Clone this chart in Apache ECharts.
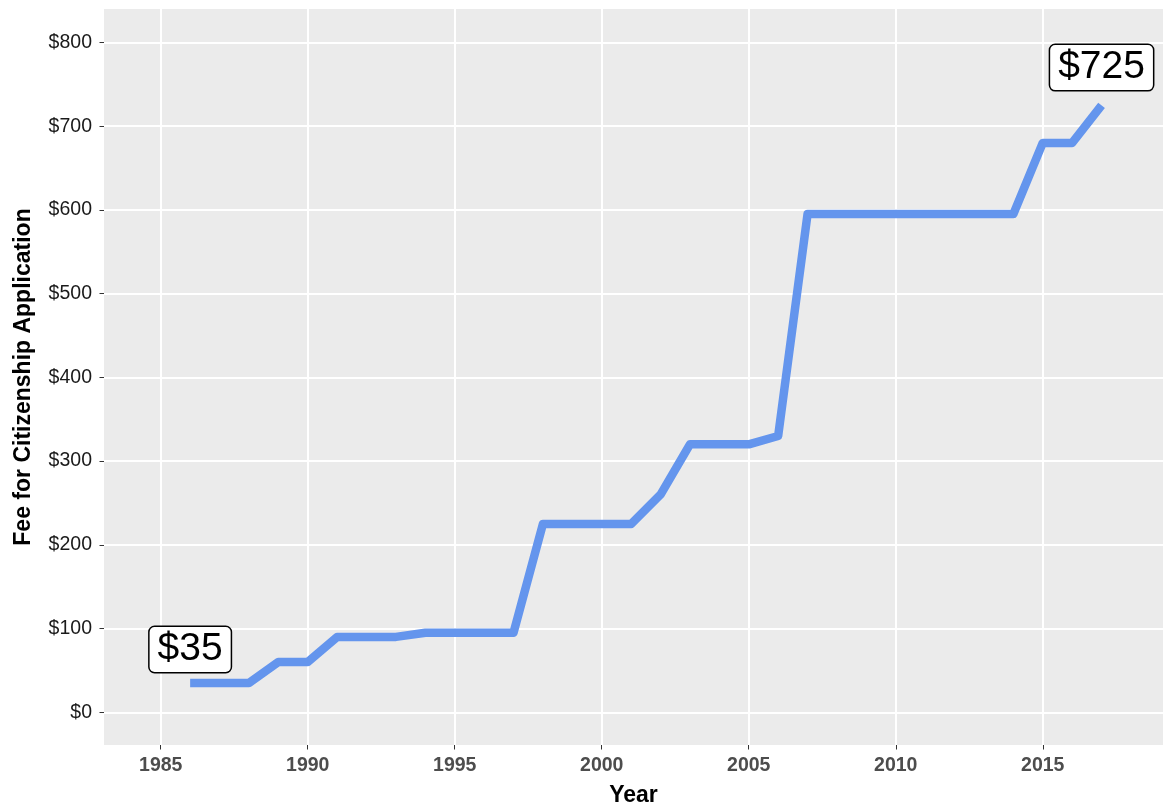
<!DOCTYPE html>
<html>
<head>
<meta charset="utf-8">
<script src="https://cdn.jsdelivr.net/npm/echarts@6/dist/echarts.min.js"></script>
<style>
html,body{margin:0;padding:0;background:#fff;}
#c{width:1163px;height:803px;}
</style>
</head>
<body>
<div id="c"></div>
<script>
const years = [1986,1987,1988,1989,1990,1991,1992,1993,1994,1995,1996,1997,1998,1999,2000,2001,2002,2003,2004,2005,2006,2007,2008,2009,2010,2011,2012,2013,2014,2015,2016,2017];
const fees  = [35,35,35,60,60,90,90,90,95,95,95,95,225,225,225,225,260,320,320,320,330,595,595,595,595,595,595,595,595,680,680,725];
const xTicks = [1985,1990,1995,2000,2005,2010,2015];
const yTicks = [0,100,200,300,400,500,600,700,800];
const annYears = [1986, 2017];
const annValues = [75, 770];
const annTexts = ['$35', '$725'];

const FONT = '"Liberation Sans", Arial, Helvetica, sans-serif';
const chart = echarts.init(document.getElementById('c'), null, {renderer:'canvas'});
const option = {
  animation:false,
  backgroundColor:'#ffffff',
  grid:{left:104,right:0,top:9,bottom:58,show:true,backgroundColor:'#EBEBEB',borderWidth:0,
        containLabel:false,outerBoundsMode:'none'},
  xAxis:{
    type:'value', min:1983.07, max:2019.09,
    name:'Year', nameLocation:'middle', nameGap:39,
    nameTextStyle:{fontFamily:FONT,fontSize:23,fontWeight:'bold',color:'#000'},
    axisLine:{show:false,onZero:false},
    axisTick:{show:true,length:4.5,customValues:xTicks,lineStyle:{color:'#333',width:1}},
    axisLabel:{customValues:xTicks,margin:11,fontFamily:FONT,fontSize:19.5,fontWeight:'bold',color:'#4D4D4D',formatter:v=>String(v)},
    splitLine:{show:true,lineStyle:{color:'#fff',width:2}}
  },
  yAxis:{
    type:'value', min:-39.1, max:840,
    name:'Fee for Citizenship Application', nameLocation:'middle', nameGap:69,
    nameTextStyle:{fontFamily:FONT,fontSize:23,fontWeight:'bold',color:'#000'},
    axisLine:{show:false,onZero:false},
    axisTick:{show:true,length:4.5,customValues:yTicks,lineStyle:{color:'#333',width:1}},
    axisLabel:{customValues:yTicks,margin:12,fontFamily:FONT,fontSize:19.5,color:'#1a1a1a',formatter:v=>'$'+v},
    splitLine:{show:true,lineStyle:{color:'#fff',width:2}}
  },
  series:[
    {type:'line',data:years.map((y,i)=>[y,fees[i]]),showSymbol:false,symbol:'none',
     lineStyle:{color:'#6495ED',width:8.5,cap:'butt',join:'round'}},
    {type:'scatter',data:annYears.map((y,i)=>[y,annValues[i]]),symbolSize:0,
     itemStyle:{color:'#000',opacity:1},
     label:{show:true,position:'inside',formatter:p=>annTexts[p.dataIndex],
       fontFamily:FONT,fontSize:39,lineHeight:39,color:'#000',opacity:1,backgroundColor:'#fff',
       textBorderWidth:0,borderColor:'#000',borderWidth:1.5,borderRadius:5,padding:[4,8,2,8]}}
  ]
};
chart.setOption(option);
</script>
</body>
</html>
